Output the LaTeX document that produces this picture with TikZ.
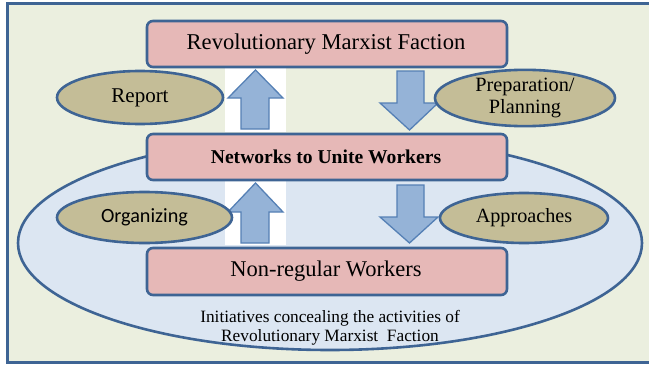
\documentclass[tikz,border=0pt]{standalone}
\usepackage{fontspec}
\setmainfont{Liberation Serif}
\newfontfamily\calib{Carlito}
\usetikzlibrary{shapes.geometric}
\definecolor{frameblue}{HTML}{3E6494}
\definecolor{bgfill}{HTML}{EBEFDF}
\definecolor{boxfill}{HTML}{E6B8B7}
\definecolor{tanfill}{HTML}{C4BD97}
\definecolor{bigfill}{HTML}{DCE6F2}
\definecolor{arrfill}{HTML}{95B3D7}
\definecolor{arrline}{HTML}{5580B5}
\tikzset{
  pinkbox/.style={draw=frameblue, line width=2.6pt, fill=boxfill, rounded corners=6pt},
  tanell/.style={draw=frameblue, line width=2.6pt, fill=tanfill, ellipse, inner sep=0pt},
  blockarrow/.style={draw=arrline, line width=1.3pt, fill=arrfill, line join=miter},
}
\begin{document}
\begin{tikzpicture}[x=1pt,y=-1pt]
\useasboundingbox (0,0) rectangle (649,367);
% frame
\draw[frameblue, line width=3pt, fill=bgfill] (7,3.5) rectangle (660,362);
% big ellipse
\draw[frameblue, line width=2.6pt, fill=bigfill] (330,243) ellipse [x radius=312, y radius=107];
% white backs for up arrows
\fill[white] (225,67) rectangle (286,132);
\fill[white] (225,180) rectangle (286,245);
% boxes
\draw[pinkbox] (147,21) rectangle (507,67);
\node[font=\fontsize{22.6}{26}\selectfont] (rmf) at (326,44) {Revolutionary Marxist Faction};
\draw[pinkbox] (147,134) rectangle (507,180);
\node[font=\fontsize{19.6}{23}\selectfont\bfseries] (net) at (326,157) {Networks to Unite Workers};
\draw[pinkbox] (147,248) rectangle (507,295);
\node[font=\fontsize{22.5}{26}\selectfont] (nrw) at (326,271.5) {Non-regular Workers};
% arrows
\draw[blockarrow] (241,129) -- (241,98) -- (228,98) -- (255.5,70) -- (283,98) -- (269,98) -- (269,129) -- cycle;
\draw[blockarrow] (241,243) -- (241,212) -- (228,212) -- (255.5,183) -- (283,212) -- (269,212) -- (269,243) -- cycle;
\draw[blockarrow] (397,71) -- (397,103) -- (380,103) -- (409.5,130) -- (438,103) -- (424,103) -- (424,71) -- cycle;
\draw[blockarrow] (397,185) -- (397,217) -- (380,217) -- (409.5,243) -- (438,217) -- (424,217) -- (424,185) -- cycle;
% small ellipses
\node[tanell, minimum width=166pt, minimum height=53pt, font=\fontsize{21}{24}\selectfont] (rep) at (140,97.5) {Report};
\node[tanell, minimum width=180pt, minimum height=54pt, font=\fontsize{20.3}{22}\selectfont, align=center] (prep) at (525,98) {Preparation/\\Planning};
\node[tanell, minimum width=175pt, minimum height=51pt, font=\calib\fontsize{20.2}{24}\selectfont] (org) at (144.5,217.5) {Organizing};
\node[tanell, minimum width=168pt, minimum height=50pt, font=\fontsize{20.2}{24}\selectfont] (app) at (524,218) {Approaches};
% caption
\node[font=\fontsize{17.3}{19}\selectfont, align=center] (cap) at (330,328) {Initiatives concealing the activities of\\Revolutionary Marxist\ \ Faction};
\end{tikzpicture}
\end{document}
